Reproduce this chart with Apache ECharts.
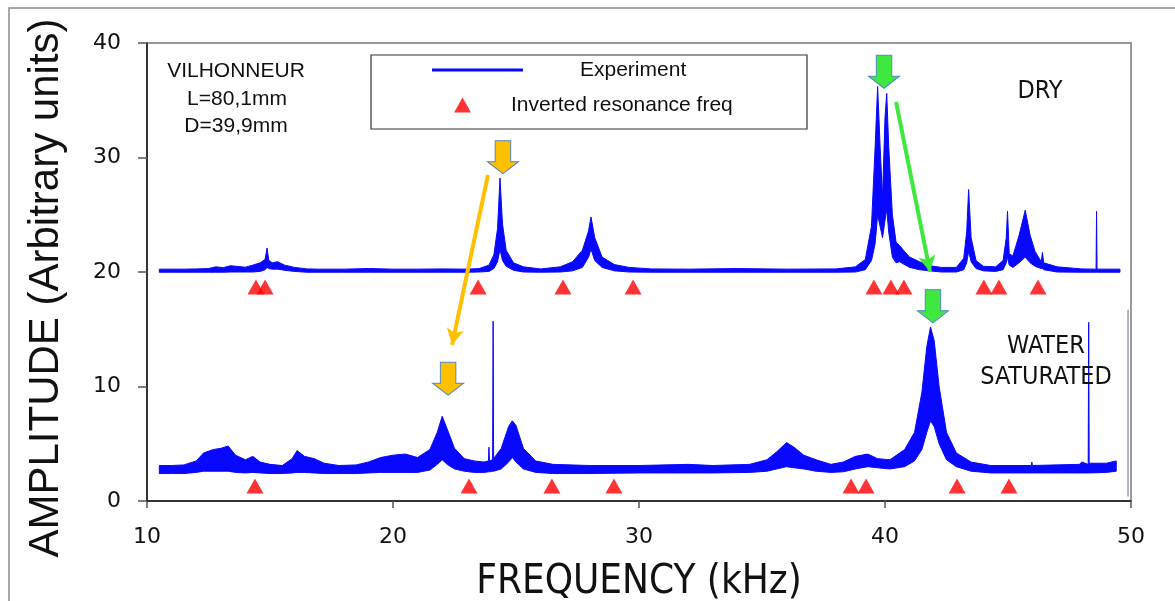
<!DOCTYPE html>
<html>
<head>
<meta charset="utf-8">
<script src="https://cdn.jsdelivr.net/npm/echarts@6/dist/echarts.min.js"></script>
<style>
html,body{margin:0;padding:0;background:#fff;}
#chart{width:1175px;height:601px;}
</style>
</head>
<body>
<div id="chart"></div>
<script>
// ---- Data ----
// DRY spectrum: frequency (kHz), lower and upper envelope of the noisy trace
const dryFreq = [10.5,11.0,11.5,12.0,12.5,12.8,13.1,13.4,13.7,14.0,14.3,14.6,14.8,14.88,14.95,15.1,15.3,15.6,16.0,16.5,17.0,18.0,19.0,20.0,21.0,22.0,23.0,23.5,23.9,24.1,24.25,24.35,24.45,24.6,24.9,25.3,26.0,26.8,27.3,27.7,27.95,28.05,28.2,28.5,29.0,29.6,30.5,32.0,34.0,36.0,38.0,38.8,39.2,39.45,39.6,39.7,39.8,39.9,40.0,40.07,40.15,40.3,40.45,40.6,40.75,41.0,41.4,41.8,42.3,42.9,43.2,43.32,43.4,43.5,43.7,44.0,44.5,44.8,44.93,44.98,45.05,45.2,45.45,45.7,45.9,46.1,46.35,46.4,46.45,47.0,48.0,48.58,48.6,48.62,49.55];
const dryLow  = [19.98,19.98,19.98,19.98,19.98,19.98,19.98,20.0,20.0,20.0,20.0,20.05,20.2,20.4,20.3,20.25,20.25,20.15,20.05,19.98,19.98,19.98,19.98,19.98,19.98,19.98,19.98,20.0,20.05,20.3,20.9,22.0,21.0,20.5,20.15,20.0,19.98,20.0,20.1,20.4,21.3,22.0,21.0,20.4,20.1,20.0,19.98,19.98,19.98,19.98,19.98,20.0,20.2,21.0,22.5,25.0,24.0,23.0,24.5,25.5,23.5,21.3,20.8,20.9,20.7,20.4,20.2,20.1,20.0,20.0,20.2,20.8,21.8,20.9,20.3,20.1,20.05,20.2,20.8,21.3,20.6,20.4,20.8,21.3,20.8,20.5,20.3,20.3,20.2,20.0,19.98,19.98,19.98,19.98,19.98];
const dryHigh = [20.25,20.25,20.25,20.27,20.3,20.45,20.38,20.55,20.48,20.42,20.6,20.8,21.1,22.1,21.0,20.8,20.9,20.6,20.4,20.27,20.25,20.25,20.3,20.25,20.25,20.27,20.25,20.3,20.6,21.5,23.8,28.2,24.2,21.9,20.8,20.45,20.27,20.45,20.9,21.9,23.6,24.8,23.0,21.3,20.65,20.4,20.27,20.25,20.3,20.25,20.27,20.45,21.1,24.0,31.0,36.2,31.0,26.5,33.5,35.6,31.0,25.0,22.6,22.3,21.9,21.3,20.9,20.55,20.4,20.4,21.2,23.5,27.2,23.0,21.0,20.5,20.45,21.0,23.0,25.3,21.6,21.4,23.2,25.4,23.2,21.8,20.9,21.7,20.8,20.45,20.27,20.25,25.3,20.25,20.25];

// WATER SATURATED spectrum
const wetFreq = [10.5,11.0,11.5,12.0,12.3,12.7,13.0,13.3,13.6,14.0,14.3,14.6,15.0,15.5,15.9,16.1,16.4,16.8,17.2,17.8,18.5,19.0,19.5,20.0,20.5,21.0,21.5,21.8,22.0,22.2,22.5,22.9,23.3,23.7,23.88,23.9,23.92,24.05,24.07,24.09,24.4,24.7,24.85,25.0,25.3,25.8,26.5,28.0,30.0,32.0,33.0,34.5,35.2,35.6,36.0,36.3,36.7,37.2,37.8,38.3,38.8,39.3,39.7,40.2,40.8,41.2,41.5,41.7,41.85,42.0,42.2,42.5,42.9,43.5,44.3,45.95,45.97,45.99,47.9,48.0,48.26,48.28,48.3,49.0,49.4];
const wetLow  = [2.4,2.4,2.4,2.5,2.6,2.6,2.6,2.6,2.5,2.45,2.5,2.45,2.4,2.4,2.45,2.5,2.5,2.45,2.4,2.4,2.4,2.45,2.5,2.5,2.5,2.5,2.7,3.2,3.6,3.2,2.8,2.6,2.5,2.5,2.55,2.55,2.55,2.6,2.6,2.6,2.8,3.4,3.8,3.4,2.8,2.5,2.4,2.4,2.45,2.45,2.45,2.5,2.6,2.8,3.0,2.9,2.8,2.6,2.5,2.55,2.8,3.0,2.9,2.8,3.0,3.5,4.5,6.0,7.0,6.5,5.0,3.6,3.0,2.6,2.45,2.45,2.45,2.45,2.45,2.45,2.45,2.45,2.45,2.5,2.6];
const wetHigh = [3.1,3.1,3.15,3.5,4.2,4.5,4.6,4.8,4.0,3.6,3.9,3.4,3.2,3.1,3.7,4.4,3.9,3.7,3.3,3.1,3.15,3.4,3.8,4.0,4.1,3.8,4.5,6.0,7.4,6.3,4.6,3.7,3.5,3.4,3.5,4.7,3.5,3.6,15.7,3.7,4.6,6.5,7.0,6.6,4.6,3.5,3.2,3.1,3.1,3.2,3.1,3.2,3.6,4.3,5.1,4.7,4.0,3.6,3.2,3.4,3.9,4.1,3.7,3.6,4.5,6.0,9.5,13.5,15.2,14.0,10.0,6.0,4.2,3.4,3.1,3.1,3.4,3.1,3.2,3.4,3.2,15.6,3.3,3.3,3.5];

// Stray grey trace at the right edge of the water-saturated record
const edgeFreq = [49.88, 49.88];
const edgeAmp  = [0.4, 16.7];

// Inverted resonance frequencies (kHz) and the level where they are plotted
const dryResFreq = [14.43,14.80,23.46,26.91,29.76,39.55,40.24,40.77,44.02,44.63,46.22];
const dryResLevel = 18.7;
const wetResFreq = [14.39,23.09,26.46,28.98,38.62,39.23,42.93,45.04];
const wetResLevel = 1.3;

// Axis ticks
const xTicks = [10, 20, 30, 40, 50];
const yTicks = [0, 10, 20, 30, 40];

// ---- Build ----
const BLUE = '#0808ff';
const zip = (a, b) => a.map((v, i) => [v, b[i]]);
const rows = (f, lo, hi) => f.map((v, i) => [v, lo[i], hi[i]]);

const ARROW = 'path://M8,0 L24,0 L24,21 L32,21 L16,33 L0,21 L8,21 Z';
const SANS = '"Liberation Sans", Arial, sans-serif';
const NARROW = '"Liberation Sans Narrow", "Arial Narrow", "DejaVu Sans Condensed", sans-serif';

// Noisy trace drawn as a filled band between its lower and upper envelope
function renderBand(params, api) {
  if (params.dataIndexInside !== 0) return null;
  const n = params.dataInsideLength;
  const upper = [], lower = [];
  for (let i = 0; i < n; i++) {
    upper.push(api.coord([api.value(0, i), api.value(2, i)]));
    lower.push(api.coord([api.value(0, i), api.value(1, i)]));
  }
  const pts = upper.concat(lower.reverse());
  return {
    type: 'polygon',
    shape: { points: pts },
    style: { fill: BLUE, stroke: BLUE, lineWidth: 1, lineJoin: 'miter' }
  };
}

function bandSeries(freq, lo, hi) {
  return {
    name: 'Experiment', type: 'custom', renderItem: renderBand, silent: true,
    clip: true, z: 2, itemStyle: { color: BLUE },
    encode: { x: 0, y: [1, 2] },
    data: rows(freq, lo, hi)
  };
}

const chart = echarts.init(document.getElementById('chart'), null, { renderer: 'canvas' });

const textStyleBase = { fill: '#111', align: 'center', verticalAlign: 'middle', textAlign: 'center', textVerticalAlign: 'middle' };

const option = {
  animation: false,
  backgroundColor: '#ffffff',
  grid: { left: 147, right: 44, top: 43, bottom: 100, show: true, containLabel: false,
          outerBoundsMode: 'none',
          borderColor: '#9a9a9a', borderWidth: 2, backgroundColor: 'transparent' },
  xAxis: {
    type: 'value', min: xTicks[0], max: xTicks[xTicks.length - 1], interval: 10,
    name: 'FREQUENCY (kHz)', nameLocation: 'middle', nameGap: 62,
    nameTextStyle: { fontFamily: NARROW, fontSize: 40, color: '#111' },
    axisLine: { onZero: false, lineStyle: { color: '#111', width: 1.5 } },
    axisTick: { show: true, inside: false, length: 7, lineStyle: { color: '#555', width: 1.5 } },
    axisLabel: { margin: 25, fontFamily: '"DejaVu Sans", sans-serif', fontSize: 22, color: '#111' },
    splitLine: { show: false }
  },
  yAxis: {
    type: 'value', min: yTicks[0], max: yTicks[yTicks.length - 1], interval: 10,
    name: 'AMPLITUDE (Arbitrary units)', nameLocation: 'middle', nameGap: 80, nameRotate: 90,
    nameTextStyle: { fontFamily: SANS, fontSize: 42, color: '#111', padding: [0, 32, 0, 0] },
    axisLine: { onZero: false, lineStyle: { color: '#111', width: 1.5 } },
    axisTick: { show: true, inside: false, length: 9, lineStyle: { color: '#555', width: 1.5 } },
    axisLabel: { margin: 26, fontFamily: '"DejaVu Sans", sans-serif', fontSize: 22, color: '#111' },
    splitLine: { show: false }
  },
  legend: [
    { data: [{ name: 'Experiment', icon: 'rect' }], orient: 'vertical',
      left: 432, top: 58, padding: 0, itemWidth: 91, itemHeight: 3, selectedMode: false,
      textStyle: { fontFamily: SANS, fontSize: 21, color: '#111', lineHeight: 24, padding: [0, 0, 0, 52] } },
    { data: [{ name: 'Inverted resonance freq', icon: 'triangle' }], orient: 'vertical',
      left: 454, top: 93, padding: 0, itemWidth: 17, itemHeight: 15, selectedMode: false,
      textStyle: { fontFamily: SANS, fontSize: 21, color: '#111', lineHeight: 24, padding: [0, 0, 0, 35] } }
  ],
  graphic: [
    { type: 'rect', z: -10, shape: { x: 9, y: 8, width: 1200, height: 700 },
      style: { fill: 'none', stroke: '#8c8c8c', lineWidth: 1.5 } },
    { type: 'rect', z: 1, shape: { x: 371, y: 55, width: 436, height: 74 },
      style: { fill: '#fff', stroke: '#333', lineWidth: 1.2 } },
    { type: 'text', z: 5, x: 236, y: 71, style: Object.assign({ text: 'VILHONNEUR', font: '21px ' + SANS }, textStyleBase) },
    { type: 'text', z: 5, x: 237, y: 99, style: Object.assign({ text: 'L=80,1mm', font: '21px ' + SANS }, textStyleBase) },
    { type: 'text', z: 5, x: 236, y: 126, style: Object.assign({ text: 'D=39,9mm', font: '21px ' + SANS }, textStyleBase) },
    { type: 'text', z: 5, x: 1040, y: 91, style: Object.assign({ text: 'DRY', font: '25px ' + NARROW }, textStyleBase) },
    { type: 'text', z: 5, x: 1046, y: 346, style: Object.assign({ text: 'WATER', font: '25px ' + NARROW }, textStyleBase) },
    { type: 'text', z: 5, x: 1046, y: 377, style: Object.assign({ text: 'SATURATED', font: '25px ' + NARROW }, textStyleBase) }
  ],
  series: [
    bandSeries(dryFreq, dryLow, dryHigh),
    bandSeries(wetFreq, wetLow, wetHigh),
    { name: 'Experiment', type: 'line', data: zip(edgeFreq, edgeAmp), showSymbol: false, symbol: 'none',
      silent: true, lineStyle: { color: '#9a9aae', width: 1.5 }, itemStyle: { color: '#9a9aae' }, z: 2 },
    { name: 'Inverted resonance freq', type: 'scatter', symbol: 'triangle', symbolSize: [17, 15],
      itemStyle: { color: '#ff0000' }, z: 3, silent: true,
      data: dryResFreq.map(f => [f, dryResLevel]),
      markPoint: {
        silent: true, label: { show: false }, symbol: ARROW, symbolSize: [31, 33],
        data: [
          { coord: [24.47, 30.03], itemStyle: { color: '#ffc000', borderColor: '#4f86c6', borderWidth: 1 } },
          { coord: [22.24, 10.68], itemStyle: { color: '#ffc000', borderColor: '#4f86c6', borderWidth: 1 } },
          { coord: [39.96, 37.49], itemStyle: { color: '#3ee83e', borderColor: '#4f86c6', borderWidth: 1 } },
          { coord: [41.95, 17.0],  itemStyle: { color: '#3ee83e', borderColor: '#4f86c6', borderWidth: 1 } }
        ]
      },
      markLine: {
        silent: true, animation: false, label: { show: false }, symbol: ['none', 'arrow'], symbolSize: [13, 16],
        data: [
          [{ coord: [23.86, 28.47], lineStyle: { color: '#ffc000', width: 4, type: 'solid' } }, { coord: [22.40, 13.64] }],
          [{ coord: [40.45, 34.86], lineStyle: { color: '#3ee83e', width: 4, type: 'solid' } }, { coord: [41.83, 20.03] }]
        ]
      }
    },
    { name: 'Inverted resonance freq', type: 'scatter', symbol: 'triangle', symbolSize: [17, 15],
      itemStyle: { color: '#ff0000' }, z: 3, silent: true,
      data: wetResFreq.map(f => [f, wetResLevel]) }
  ]
};
chart.setOption(option);
</script>
</body>
</html>
